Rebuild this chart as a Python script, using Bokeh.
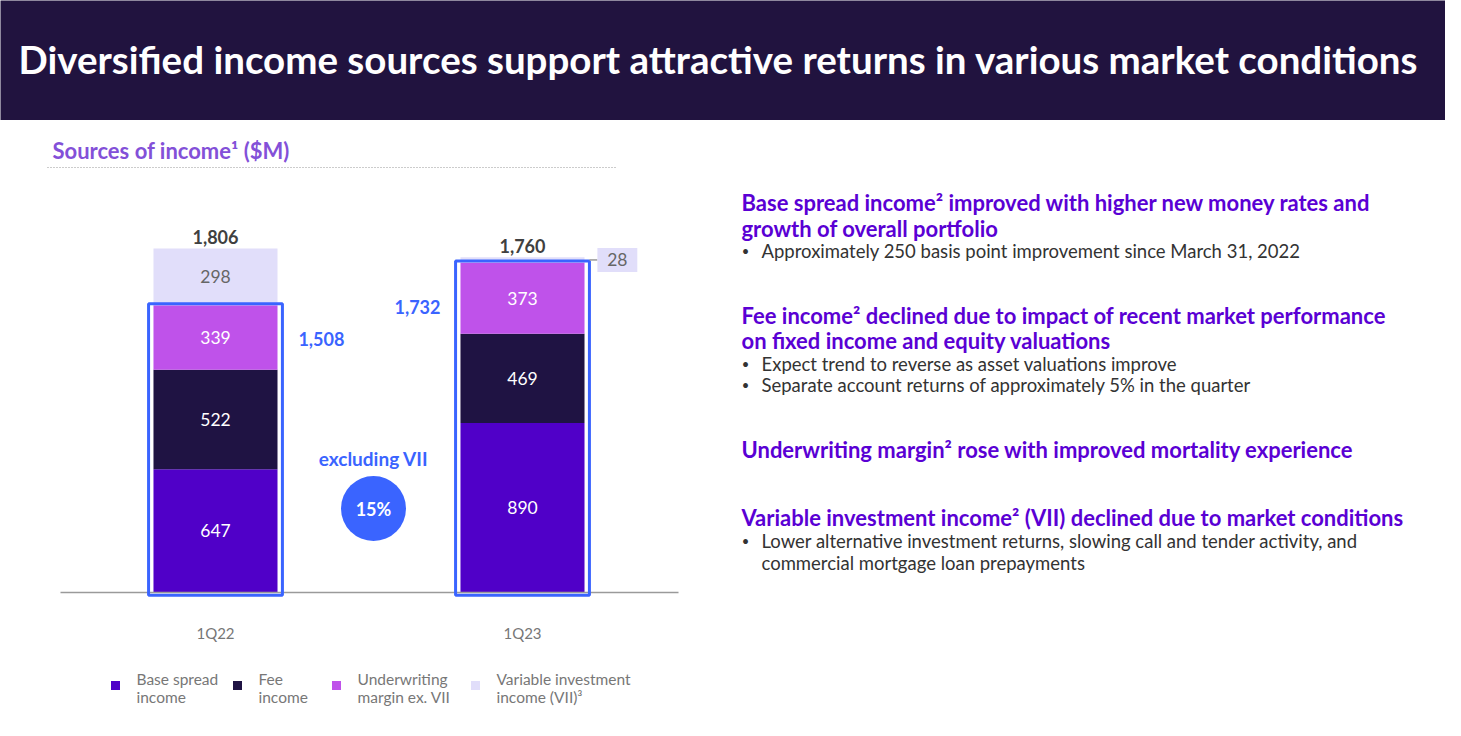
from bokeh.plotting import figure
from bokeh.models import ColumnDataSource, Range1d
from bokeh.layouts import column, row
from bokeh.embed import file_html
from bokeh.resources import INLINE
from bokeh.core.properties import value

# ---------------- data ----------------
quarters = ["1Q22", "1Q23"]
base_spread = [647, 890]
fee_income = [522, 469]
underwriting = [339, 373]
vii = [298, 28]
totals = [1806, 1760]
ex_vii_totals = [1508, 1732]
growth_ex_vii = "15%"
series_keys = ["base", "fee", "uw", "vii"]
legend_lines = [["Base spread", "income"], ["Fee", "income"],
                ["Underwriting", "margin ex. VII"], ["Variable investment", "income (VII)³"]]
colors = ["#5000c8", "#1f1343", "#bf52ea", "#e1defa"]

title_text = "Diversified income sources support attractive returns in various market conditions"
chart_title = "Sources of income¹ ($M)"
right_lines = [
    ("h", "Base spread income² improved with higher new money rates and", 202),
    ("h", "growth of overall portfolio", 228),
    ("b", "Approximately 250 basis point improvement since March 31, 2022", 250),
    ("h", "Fee income² declined due to impact of recent market performance", 315),
    ("h", "on fixed income and equity valuations", 340),
    ("b", "Expect trend to reverse as asset valuations improve", 363),
    ("b", "Separate account returns of approximately 5% in the quarter", 384),
    ("h", "Underwriting margin² rose with improved mortality experience", 449),
    ("h", "Variable investment income² (VII) declined due to market conditions", 517),
    ("b", "Lower alternative investment returns, slowing call and tender activity, and", 540),
    ("c", "commercial mortgage loan prepayments", 562),
]

FONT = "Lato"
F = value(FONT)
BLUE = "#3a64ff"


def bare(p):
    p.axis.visible = False
    p.grid.visible = False
    p.outline_line_color = None
    p.min_border = 0
    return p


# ---------------- header ----------------
header = bare(figure(width=1445, height=120, x_range=Range1d(0, 1445), y_range=Range1d(120, 0),
                     output_backend="svg", toolbar_location=None,
                     background_fill_color="#21133f", border_fill_color="#21133f"))
header.text(x=[18], y=[58], text=[title_text], text_font=F, text_font_style="bold",
            text_font_size="38.5px", text_color="white", text_baseline="middle", text_align="left")

# ---------------- left chart ----------------
left = bare(figure(width=700, height=600, x_range=Range1d(-0.7003, 1.5798), y_range=Range1d(-672, 2478),
                   output_backend="svg", toolbar_location=None))
left.extra_x_ranges = {"px": Range1d(0, 700)}
left.extra_y_ranges = {"px": Range1d(720, 120)}

xs = [0, 1]
src = ColumnDataSource(dict(x=xs, base=base_spread, fee=fee_income, uw=underwriting, vii=vii))
left.vbar_stack(series_keys, x="x", width=0.404, color=colors, line_color=None, source=src)

# baseline
left.segment(x0=[60], y0=[592], x1=[678], y1=[592], line_color="#9a9a9a", line_width=1.5,
             x_range_name="px", y_range_name="px")

# segment labels
series_vals = [base_spread, fee_income, underwriting, vii]
lx, ly, lt, lc = [], [], [], []
for j in range(2):
    bottom = 0
    for i, vals in enumerate(series_vals):
        v = vals[j]
        if not (i == 3 and j == 1):
            lx.append(xs[j]); ly.append(bottom + v / 2); lt.append(str(v))
            lc.append("white" if i < 3 else "#666666")
        bottom += v
left.text(x=lx, y=ly, text=lt, text_color=lc, text_font=F, text_font_size="17.5px",
          text_align="center", text_baseline="middle")

# totals
left.text(x=xs, y=[t + 58 for t in totals], text=[f"{t:,}" for t in totals], text_color="#404040",
          text_font=F, text_font_style="bold", text_font_size="18px", text_align="center",
          text_baseline="middle")

# blue ex-VII boxes
left.quad(left=[x - 0.218 for x in xs], right=[x + 0.218 for x in xs], bottom=[-15, -15],
          top=[t + 8 for t in ex_vii_totals], fill_color=None, line_color=BLUE, line_width=3)
left.text(x=[0.345, 0.658], y=[ex_vii_totals[0] - 175, ex_vii_totals[1] - 231],
          text=[f"{t:,}" for t in ex_vii_totals], text_color=BLUE, text_font=F,
          text_font_style="bold", text_font_size="18px", text_align="center", text_baseline="middle")

# small VII callout for 1Q23
vy = ex_vii_totals[1] + vii[1] / 2
left.segment(x0=[1.218], y0=[vy], x1=[1.244], y1=[vy], line_color="#999999", line_width=1.5)
left.rect(x=[1.309], y=[vy], width=0.130, height=126, fill_color=colors[3], line_color=None)
left.text(x=[1.309], y=[vy], text=[str(vii[1])], text_color="#666666", text_font=F,
          text_font_size="17.5px", text_align="center", text_baseline="middle")

# growth bubble
left.text(x=[373], y=[458], text=["excluding VII"], text_color=BLUE, text_font=F,
          text_font_style="bold", text_font_size="19px", text_align="center", text_baseline="middle",
          x_range_name="px", y_range_name="px")
left.scatter(x=[373], y=[508], size=65, marker="circle", fill_color=BLUE, line_color=None,
             x_range_name="px", y_range_name="px")
left.text(x=[373], y=[508], text=[growth_ex_vii], text_color="white", text_font=F,
          text_font_style="bold", text_font_size="18px", text_align="center", text_baseline="middle",
          x_range_name="px", y_range_name="px")

# category labels
left.text(x=xs, y=[-210, -210], text=quarters, text_color="#777777", text_font=F,
          text_font_size="15px", text_align="center", text_baseline="middle")

# chart title & dotted rule
left.text(x=[52], y=[150], text=[chart_title], text_color="#8350d8", text_font=F,
          text_font_style="bold", text_font_size="22px", text_align="left", text_baseline="middle",
          x_range_name="px", y_range_name="px")
left.segment(x0=[47], y0=[167], x1=[617], y1=[167], line_color="#999999", line_width=1,
             line_dash="1 2", x_range_name="px", y_range_name="px")

# legend
lgx = [115, 237, 336, 475]
left.scatter(x=lgx, y=[685] * 4, marker="square", size=9, fill_color=colors, line_color=None,
             x_range_name="px", y_range_name="px")
tx, ty, tt = [], [], []
for k, lines in enumerate(legend_lines):
    for m, ln in enumerate(lines):
        tx.append(lgx[k] + 21); ty.append(678 + 18 * m); tt.append(ln)
left.text(x=tx, y=ty, text=tt, text_color="#777777", text_font=F, text_font_size="15.5px",
          text_align="left", text_baseline="middle", x_range_name="px", y_range_name="px")

# ---------------- right text panel ----------------
right = bare(figure(width=745, height=600, x_range=Range1d(700, 1445), y_range=Range1d(720, 120),
                    output_backend="svg", toolbar_location=None))
hx, hy, ht = [], [], []
bx, by, bt = [], [], []
dy = []
for kind, txt, y in right_lines:
    if kind == "h":
        hx.append(741); hy.append(y); ht.append(txt)
    else:
        bx.append(761); by.append(y); bt.append(txt)
        if kind == "b":
            dy.append(y)
right.text(x=hx, y=hy, text=ht, text_color="#5a00d4", text_font=F, text_font_style="bold",
           text_font_size="22px", text_align="left", text_baseline="middle")
right.text(x=bx, y=by, text=bt, text_color="#333333", text_font=F, text_font_size="18.5px",
           text_align="left", text_baseline="middle")
right.text(x=[745] * len(dy), y=dy, text=["•"] * len(dy), text_color="#333333", text_font=F,
           text_font_size="13px", text_align="center", text_baseline="middle")

layout = column(header, row(left, right, spacing=0), spacing=0)
open("out.html", "w").write(file_html(layout, INLINE))
